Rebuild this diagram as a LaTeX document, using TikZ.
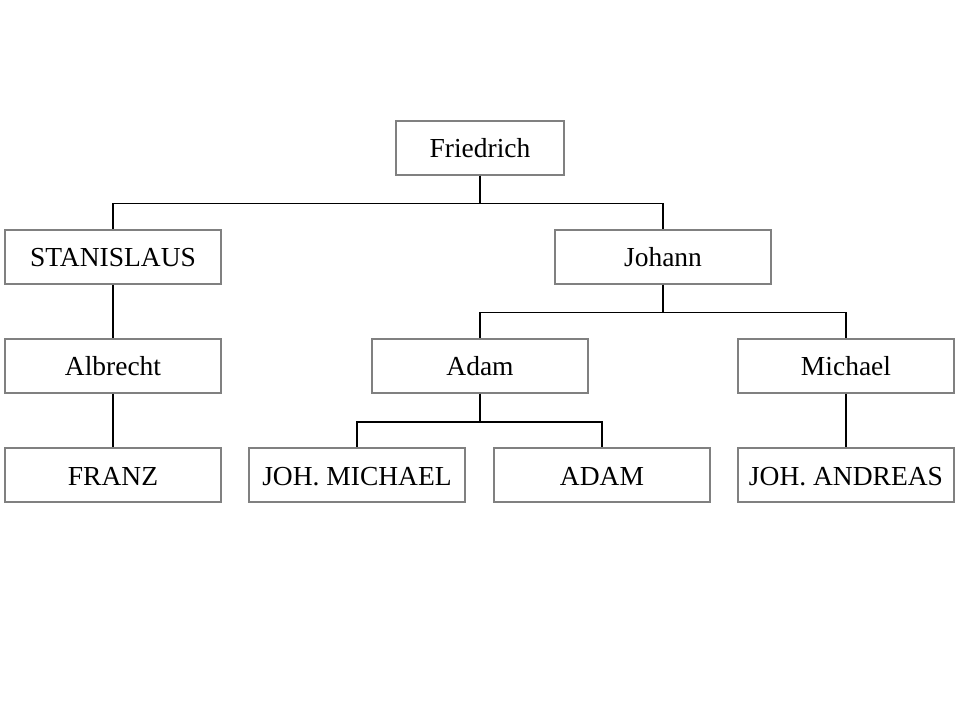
\documentclass[tikz,border=0pt]{standalone}
\usepackage{fontspec}
\setmainfont{Liberation Serif}
\usepackage{tikz}

\begin{document}
\begin{tikzpicture}[x=1pt,y=-1pt,
    person/.style={draw=gray,line width=1.5pt,minimum width=216pt,minimum height=54pt,
        inner sep=0pt,text height=20pt,text depth=0pt,font=\fontsize{27.5}{31}\selectfont},
    link/.style={line width=1.5pt}]
            \useasboundingbox (0,0) rectangle (959,719);  % page

            \node[person,minimum width=168pt] (friedrich) at (480,148) {Friedrich};
            \node[person] (stanislaus) at (113,257) {STANISLAUS};
            \node[person] (johann) at (663,257) {Johann};
            \node[person] (albrecht) at (113,366) {Albrecht};
            \node[person] (adam) at (480,366) {Adam};
            \node[person] (michael) at (846,366) {Michael};
            \node[person] (franz) at (113,475) {FRANZ};
            \node[person] (johmichael) at (357,475) {JOH. MICHAEL};
            \node[person] (adamjr) at (602,475) {ADAM};
            \node[person] (johandreas) at (846,475) {JOH. ANDREAS};

            % Lines between generations
            \draw[link] (friedrich.south) -- ++(0,28) -| (stanislaus.north);
            \draw[link] (friedrich.south) -- ++(0,28) -| (johann.north);
            \draw[link] (stanislaus.south) -- (albrecht.north);
            \draw[link] (johann.south) -- ++(0,28) -| (adam.north);
            \draw[link] (johann.south) -- ++(0,28) -| (michael.north);
            \draw[link] (albrecht.south) -- (franz.north);
            \draw[link] (adam.south) -- ++(0,28) -| (johmichael.north);
            \draw[link] (adam.south) -- ++(0,28) -| (adamjr.north);
            \draw[link] (michael.south) -- (johandreas.north);

        \end{tikzpicture}
\end{document}
